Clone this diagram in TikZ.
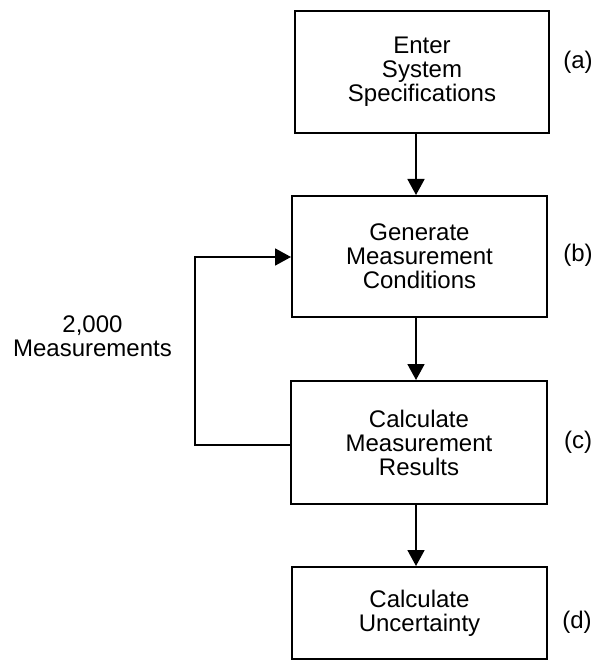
\documentclass[tikz,border=0pt]{standalone}
\usepackage{fontspec}
\setmainfont{Liberation Sans}
\usetikzlibrary{arrows.meta}
\begin{document}
\begin{tikzpicture}[x=1pt,y=-1pt,
  box/.style={draw,line width=2pt,inner sep=0pt,align=center,font=\fontsize{24}{24}\selectfont},
  lbl/.style={inner sep=0pt,font=\fontsize{24}{24}\selectfont},
  arr/.style={line width=1.8pt,-{Triangle[length=16pt,width=17pt]}}]
\useasboundingbox (0,0) rectangle (595,660);
\node[box,minimum width=254pt,minimum height=122pt] (a) at (422,72) {Enter\\System\\Specifications};
\node[box,minimum width=255pt,minimum height=121pt] (b) at (419.5,256.5) {Generate\\Measurement\\Conditions};
\node[box,minimum width=256pt,minimum height=123pt] (c) at (419,442.5) {Calculate\\Measurement\\Results};
\node[box,minimum width=255pt,minimum height=92pt] (d) at (419.5,613) {Calculate\\Uncertainty};
\node[lbl] (la) at (578,62) {(a)};
\node[lbl] (lb) at (578,255) {(b)};
\node[lbl] (lc) at (578,442) {(c)};
\node[lbl] (ld) at (577,622) {(d)};
\node[lbl,align=center] (loop) at (92.5,336) {2,000\\Measurements};
\coordinate (ax) at (416,0);
\coordinate (lx) at (195,0);
\draw[arr] (a.south -| ax) -- (b.north -| ax);
\draw[arr] (b.south -| ax) -- (c.north -| ax);
\draw[arr] (c.south -| ax) -- (d.north -| ax);
\coordinate (cy) at (0,445);
\coordinate (by) at (0,257);
\draw[arr] (c.west |- cy) -- (lx |- cy) -- (lx |- by) -- (b.west |- by);
\end{tikzpicture}
\end{document}
